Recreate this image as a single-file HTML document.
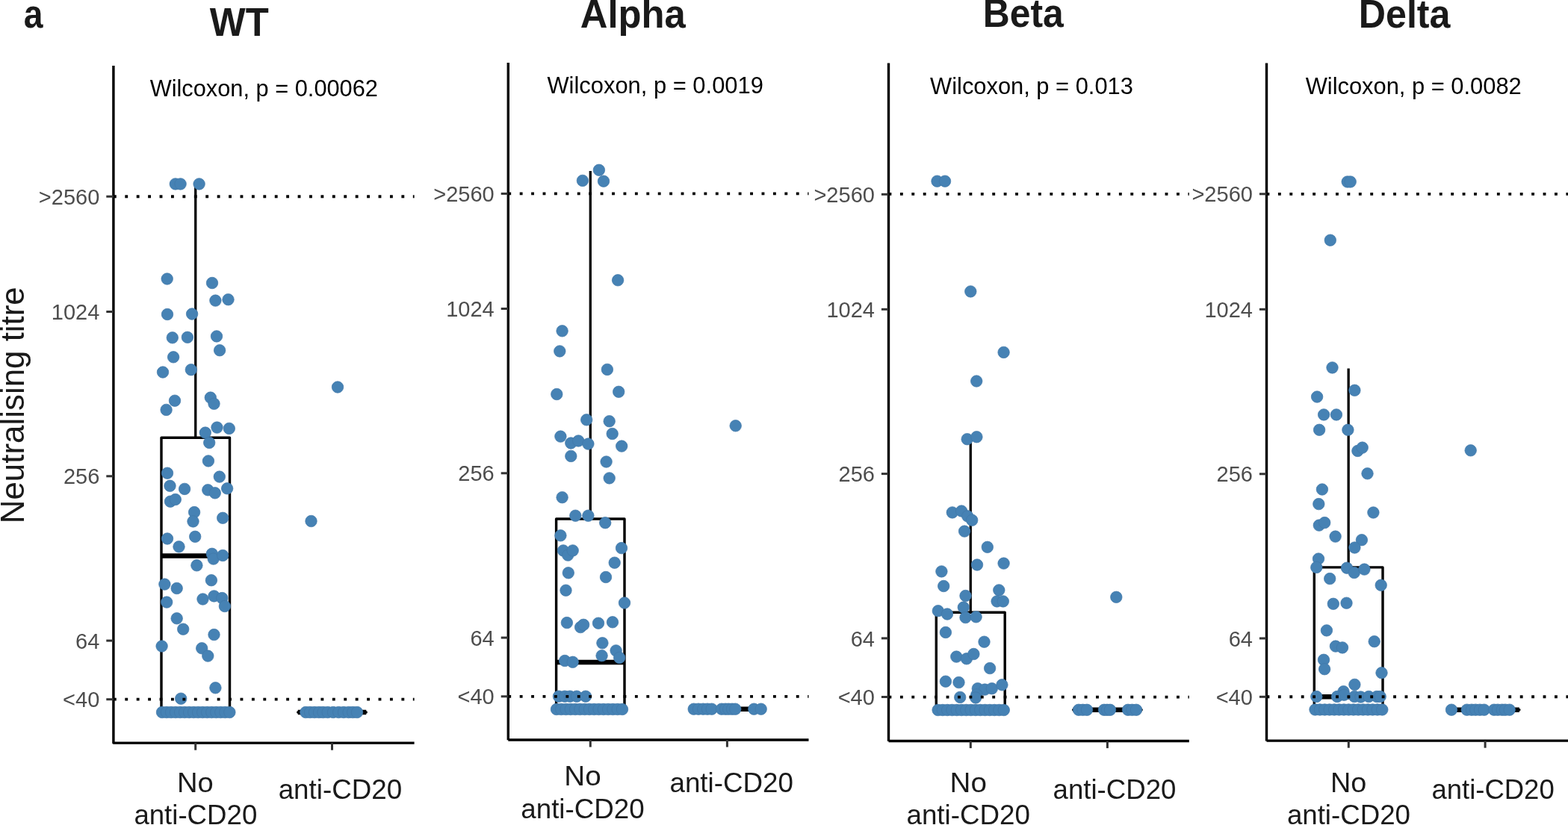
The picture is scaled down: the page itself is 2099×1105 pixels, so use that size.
<!DOCTYPE html><html><head><meta charset="utf-8"><title>Neutralising titre</title>
<style>html,body{margin:0;padding:0;background:#fff;overflow:hidden;}svg{display:block;}text{font-family:"Liberation Sans",Arial,Helvetica,sans-serif;}</style></head><body>
<svg width="2099" height="1105" viewBox="0 0 2099 1105">
<rect width="2099" height="1105" fill="#fff"/>
<g>
<line x1="261.75" y1="250" x2="261.75" y2="586.3" stroke="#000" stroke-width="3.3"/>
<rect x="216" y="586.3" width="91.5" height="367.7" fill="#fff" stroke="#000" stroke-width="3.4" stroke-linejoin="round"/>
<line x1="216" y1="744.6" x2="307.5" y2="744.6" stroke="#000" stroke-width="6.5"/>
<line x1="398.75" y1="954" x2="490.25" y2="954" stroke="#000" stroke-width="3.4" stroke-linecap="round"/>
<line x1="398.75" y1="954" x2="490.25" y2="954" stroke="#000" stroke-width="6.5" stroke-linecap="butt"/>
<g fill="#4682b4" stroke="#4077a8" stroke-width="0.7">
<circle cx="234.8" cy="246.4" r="7.75"/>
<circle cx="241.6" cy="246.4" r="7.75"/>
<circle cx="266.6" cy="246.4" r="7.75"/>
<circle cx="223.7" cy="373.5" r="7.75"/>
<circle cx="284" cy="379" r="7.75"/>
<circle cx="288.4" cy="402.6" r="7.75"/>
<circle cx="305.5" cy="401.2" r="7.75"/>
<circle cx="224" cy="421" r="7.75"/>
<circle cx="257.1" cy="420.5" r="7.75"/>
<circle cx="230.8" cy="452.3" r="7.75"/>
<circle cx="250.9" cy="451.8" r="7.75"/>
<circle cx="290" cy="450.4" r="7.75"/>
<circle cx="294.1" cy="469.2" r="7.75"/>
<circle cx="232.1" cy="478.3" r="7.75"/>
<circle cx="218" cy="498.5" r="7.75"/>
<circle cx="255.8" cy="495.2" r="7.75"/>
<circle cx="234" cy="536.7" r="7.75"/>
<circle cx="222.6" cy="548.9" r="7.75"/>
<circle cx="281.8" cy="532.6" r="7.75"/>
<circle cx="286.5" cy="540.8" r="7.75"/>
<circle cx="290.5" cy="572.6" r="7.75"/>
<circle cx="306.8" cy="573.9" r="7.75"/>
<circle cx="274.8" cy="579.6" r="7.75"/>
<circle cx="280.2" cy="592.9" r="7.75"/>
<circle cx="278.9" cy="617.4" r="7.75"/>
<circle cx="224" cy="633.7" r="7.75"/>
<circle cx="293.8" cy="638.6" r="7.75"/>
<circle cx="227.5" cy="650.8" r="7.75"/>
<circle cx="247.1" cy="654.9" r="7.75"/>
<circle cx="278.3" cy="656.3" r="7.75"/>
<circle cx="287.8" cy="660.3" r="7.75"/>
<circle cx="304.1" cy="654.3" r="7.75"/>
<circle cx="228" cy="671.7" r="7.75"/>
<circle cx="234.8" cy="669" r="7.75"/>
<circle cx="260.1" cy="686.1" r="7.75"/>
<circle cx="258.5" cy="698.4" r="7.75"/>
<circle cx="298.2" cy="693.8" r="7.75"/>
<circle cx="224" cy="721.5" r="7.75"/>
<circle cx="261.2" cy="718.8" r="7.75"/>
<circle cx="239.5" cy="732.3" r="7.75"/>
<circle cx="283.8" cy="741.8" r="7.75"/>
<circle cx="285.7" cy="748.6" r="7.75"/>
<circle cx="298.2" cy="744" r="7.75"/>
<circle cx="263.4" cy="757.3" r="7.75"/>
<circle cx="220.4" cy="782.6" r="7.75"/>
<circle cx="236.7" cy="788" r="7.75"/>
<circle cx="282.9" cy="777.2" r="7.75"/>
<circle cx="223.2" cy="806.6" r="7.75"/>
<circle cx="271.5" cy="802.5" r="7.75"/>
<circle cx="286.5" cy="798.4" r="7.75"/>
<circle cx="297.3" cy="801.1" r="7.75"/>
<circle cx="300.9" cy="812" r="7.75"/>
<circle cx="236.7" cy="828.3" r="7.75"/>
<circle cx="245.2" cy="842.7" r="7.75"/>
<circle cx="286.5" cy="850.1" r="7.75"/>
<circle cx="216.6" cy="865.5" r="7.75"/>
<circle cx="270.2" cy="868.3" r="7.75"/>
<circle cx="278.3" cy="878.6" r="7.75"/>
<circle cx="288.4" cy="921.3" r="7.75"/>
<circle cx="242.2" cy="935.7" r="7.75"/>
<circle cx="217" cy="954" r="7.75"/>
<circle cx="223.03" cy="954" r="7.75"/>
<circle cx="229.05" cy="954" r="7.75"/>
<circle cx="235.08" cy="954" r="7.75"/>
<circle cx="241.11" cy="954" r="7.75"/>
<circle cx="247.13" cy="954" r="7.75"/>
<circle cx="253.16" cy="954" r="7.75"/>
<circle cx="259.19" cy="954" r="7.75"/>
<circle cx="265.21" cy="954" r="7.75"/>
<circle cx="271.24" cy="954" r="7.75"/>
<circle cx="277.27" cy="954" r="7.75"/>
<circle cx="283.29" cy="954" r="7.75"/>
<circle cx="289.32" cy="954" r="7.75"/>
<circle cx="295.35" cy="954" r="7.75"/>
<circle cx="301.37" cy="954" r="7.75"/>
<circle cx="307.4" cy="954" r="7.75"/>
<circle cx="452" cy="518.5" r="7.75"/>
<circle cx="416.5" cy="698" r="7.75"/>
<circle cx="409.3" cy="954" r="7.75"/>
<circle cx="415" cy="954" r="7.75"/>
<circle cx="421" cy="954" r="7.75"/>
<circle cx="427" cy="954" r="7.75"/>
<circle cx="432.5" cy="954" r="7.75"/>
<circle cx="438.7" cy="954" r="7.75"/>
<circle cx="446" cy="954" r="7.75"/>
<circle cx="453.3" cy="954" r="7.75"/>
<circle cx="460" cy="954" r="7.75"/>
<circle cx="466.7" cy="954" r="7.75"/>
<circle cx="472.3" cy="954" r="7.75"/>
<circle cx="478" cy="954" r="7.75"/>
</g>
<line x1="151.9" y1="263.2" x2="554.6" y2="263.2" stroke="#000" stroke-width="3.85" stroke-dasharray="3.85 11.57"/>
<line x1="151.9" y1="936.6" x2="554.6" y2="936.6" stroke="#000" stroke-width="3.85" stroke-dasharray="3.85 11.57"/>
<path d="M151.9 88V995.1H554.6" fill="none" stroke="#000" stroke-width="3.4" stroke-linejoin="round"/>
<line x1="142.3" y1="263.2" x2="151.9" y2="263.2" stroke="#333" stroke-width="3"/>
<text x="133.3" y="273.8" font-size="29.0" fill="#4d4d4d" text-anchor="end">&gt;2560</text>
<line x1="142.3" y1="417.5" x2="151.9" y2="417.5" stroke="#333" stroke-width="3"/>
<text x="133.3" y="428.1" font-size="29.0" fill="#4d4d4d" text-anchor="end">1024</text>
<line x1="142.3" y1="637.8" x2="151.9" y2="637.8" stroke="#333" stroke-width="3"/>
<text x="133.3" y="648.4" font-size="29.0" fill="#4d4d4d" text-anchor="end">256</text>
<line x1="142.3" y1="858.1" x2="151.9" y2="858.1" stroke="#333" stroke-width="3"/>
<text x="133.3" y="868.7" font-size="29.0" fill="#4d4d4d" text-anchor="end">64</text>
<line x1="142.3" y1="936.7" x2="151.9" y2="936.7" stroke="#333" stroke-width="3"/>
<text x="133.3" y="947.3" font-size="29.0" fill="#4d4d4d" text-anchor="end">&lt;40</text>
<line x1="261.7" y1="995.1" x2="261.7" y2="1004.7" stroke="#333" stroke-width="3"/>
<line x1="444.5" y1="995.1" x2="444.5" y2="1004.7" stroke="#333" stroke-width="3"/>
<text transform="translate(236.94 1060.70) scale(1.0395 1.0000)" font-size="36.7" fill="#1a1a1a">No</text>
<text transform="translate(179.38 1104.30) scale(0.9981 1.0000)" font-size="36.7" fill="#1a1a1a">anti-CD20</text>
<text transform="translate(372.68 1069.70) scale(1.0018 1.0000)" font-size="36.7" fill="#1a1a1a">anti-CD20</text>
<text transform="translate(200.65 128.60) scale(0.9961 1.0000)" font-size="30.9" fill="#000">Wilcoxon, p = 0.00062</text>
<text transform="translate(280.70 47.80) scale(0.9588 1.0000)" font-size="53" font-weight="bold" fill="#1a1a1a">WT</text>
</g>
<g>
<line x1="790.3" y1="229" x2="790.3" y2="695" stroke="#000" stroke-width="3.3"/>
<rect x="744.6" y="695" width="91.4" height="255" fill="#fff" stroke="#000" stroke-width="3.4" stroke-linejoin="round"/>
<line x1="744.6" y1="886.9" x2="836" y2="886.9" stroke="#000" stroke-width="6.5"/>
<line x1="927.65" y1="949.7" x2="1019.15" y2="949.7" stroke="#000" stroke-width="3.4" stroke-linecap="round"/>
<line x1="927.65" y1="949.7" x2="1019.15" y2="949.7" stroke="#000" stroke-width="6.5" stroke-linecap="butt"/>
<g fill="#4682b4" stroke="#4077a8" stroke-width="0.7">
<circle cx="779.9" cy="241.9" r="7.75"/>
<circle cx="801.9" cy="227.8" r="7.75"/>
<circle cx="808" cy="242.7" r="7.75"/>
<circle cx="827.1" cy="375.3" r="7.75"/>
<circle cx="752.6" cy="443.3" r="7.75"/>
<circle cx="749.3" cy="470.4" r="7.75"/>
<circle cx="812.9" cy="494.9" r="7.75"/>
<circle cx="745.3" cy="528" r="7.75"/>
<circle cx="828.2" cy="524.8" r="7.75"/>
<circle cx="785.2" cy="562.3" r="7.75"/>
<circle cx="815.7" cy="564.2" r="7.75"/>
<circle cx="750.4" cy="584.6" r="7.75"/>
<circle cx="764.3" cy="593.5" r="7.75"/>
<circle cx="774.3" cy="590.5" r="7.75"/>
<circle cx="787.4" cy="594.6" r="7.75"/>
<circle cx="819.7" cy="581" r="7.75"/>
<circle cx="832.2" cy="597.6" r="7.75"/>
<circle cx="764.3" cy="610.9" r="7.75"/>
<circle cx="811.6" cy="618.5" r="7.75"/>
<circle cx="815.7" cy="640.4" r="7.75"/>
<circle cx="752.6" cy="666.2" r="7.75"/>
<circle cx="770.3" cy="690.7" r="7.75"/>
<circle cx="787.4" cy="690.7" r="7.75"/>
<circle cx="810.2" cy="700.2" r="7.75"/>
<circle cx="750.4" cy="717.3" r="7.75"/>
<circle cx="754" cy="737.4" r="7.75"/>
<circle cx="760.2" cy="743.6" r="7.75"/>
<circle cx="766.7" cy="737.4" r="7.75"/>
<circle cx="832" cy="734.1" r="7.75"/>
<circle cx="822.7" cy="753.7" r="7.75"/>
<circle cx="760.8" cy="767.3" r="7.75"/>
<circle cx="811" cy="773" r="7.75"/>
<circle cx="757.5" cy="790.7" r="7.75"/>
<circle cx="836" cy="807.5" r="7.75"/>
<circle cx="758.9" cy="834.1" r="7.75"/>
<circle cx="777.1" cy="840.1" r="7.75"/>
<circle cx="781.1" cy="836.8" r="7.75"/>
<circle cx="801" cy="834.7" r="7.75"/>
<circle cx="820" cy="833.3" r="7.75"/>
<circle cx="806.4" cy="861.3" r="7.75"/>
<circle cx="805.6" cy="878.2" r="7.75"/>
<circle cx="824.6" cy="871.4" r="7.75"/>
<circle cx="829.2" cy="880.9" r="7.75"/>
<circle cx="756.1" cy="885" r="7.75"/>
<circle cx="766.7" cy="886.8" r="7.75"/>
<circle cx="748" cy="932.7" r="7.75"/>
<circle cx="756" cy="932.7" r="7.75"/>
<circle cx="763" cy="932.7" r="7.75"/>
<circle cx="772" cy="932.7" r="7.75"/>
<circle cx="784" cy="932.7" r="7.75"/>
<circle cx="745" cy="950" r="7.75"/>
<circle cx="751.29" cy="950" r="7.75"/>
<circle cx="757.57" cy="950" r="7.75"/>
<circle cx="763.86" cy="950" r="7.75"/>
<circle cx="770.14" cy="950" r="7.75"/>
<circle cx="776.43" cy="950" r="7.75"/>
<circle cx="782.71" cy="950" r="7.75"/>
<circle cx="789" cy="950" r="7.75"/>
<circle cx="795.29" cy="950" r="7.75"/>
<circle cx="801.57" cy="950" r="7.75"/>
<circle cx="807.86" cy="950" r="7.75"/>
<circle cx="814.14" cy="950" r="7.75"/>
<circle cx="820.43" cy="950" r="7.75"/>
<circle cx="826.71" cy="950" r="7.75"/>
<circle cx="833" cy="950" r="7.75"/>
<circle cx="984.7" cy="570.3" r="7.75"/>
<circle cx="928.7" cy="949.7" r="7.75"/>
<circle cx="935" cy="949.7" r="7.75"/>
<circle cx="941.3" cy="949.7" r="7.75"/>
<circle cx="947" cy="949.7" r="7.75"/>
<circle cx="952.7" cy="949.7" r="7.75"/>
<circle cx="966" cy="949.7" r="7.75"/>
<circle cx="971" cy="949.7" r="7.75"/>
<circle cx="975.3" cy="949.7" r="7.75"/>
<circle cx="980" cy="949.7" r="7.75"/>
<circle cx="984.3" cy="949.7" r="7.75"/>
<circle cx="1009.3" cy="949.7" r="7.75"/>
<circle cx="1018.7" cy="949.7" r="7.75"/>
</g>
<line x1="680.3" y1="259.3" x2="1082.5" y2="259.3" stroke="#000" stroke-width="3.85" stroke-dasharray="3.85 11.57"/>
<line x1="680.3" y1="932.8" x2="1082.5" y2="932.8" stroke="#000" stroke-width="3.85" stroke-dasharray="3.85 11.57"/>
<path d="M680.3 84V991.3M680.3 991H1082.5" fill="none" stroke="#000" stroke-width="3.4"/>
<line x1="670.7" y1="259.4" x2="680.3" y2="259.4" stroke="#333" stroke-width="3"/>
<text x="661.7" y="270" font-size="29.0" fill="#4d4d4d" text-anchor="end">&gt;2560</text>
<line x1="670.7" y1="413.5" x2="680.3" y2="413.5" stroke="#333" stroke-width="3"/>
<text x="661.7" y="424.1" font-size="29.0" fill="#4d4d4d" text-anchor="end">1024</text>
<line x1="670.7" y1="633.8" x2="680.3" y2="633.8" stroke="#333" stroke-width="3"/>
<text x="661.7" y="644.4" font-size="29.0" fill="#4d4d4d" text-anchor="end">256</text>
<line x1="670.7" y1="854.1" x2="680.3" y2="854.1" stroke="#333" stroke-width="3"/>
<text x="661.7" y="864.7" font-size="29.0" fill="#4d4d4d" text-anchor="end">64</text>
<line x1="670.7" y1="932.8" x2="680.3" y2="932.8" stroke="#333" stroke-width="3"/>
<text x="661.7" y="943.4" font-size="29.0" fill="#4d4d4d" text-anchor="end">&lt;40</text>
<line x1="790.3" y1="991" x2="790.3" y2="1000.6" stroke="#333" stroke-width="3"/>
<line x1="973.4" y1="991" x2="973.4" y2="1000.6" stroke="#333" stroke-width="3"/>
<text transform="translate(755.30 1052.30) scale(1.0513 1.0000)" font-size="36.7" fill="#1a1a1a">No</text>
<text transform="translate(697.28 1095.90) scale(1.0018 1.0000)" font-size="36.7" fill="#1a1a1a">anti-CD20</text>
<text transform="translate(896.48 1060.70) scale(1.0012 1.0000)" font-size="36.7" fill="#1a1a1a">anti-CD20</text>
<text transform="translate(732.45 124.60) scale(1.0005 1.0000)" font-size="30.9" fill="#000">Wilcoxon, p = 0.0019</text>
<text transform="translate(776.79 37.30) scale(0.9578 1.0000)" font-size="53" font-weight="bold" fill="#1a1a1a">Alpha</text>
</g>
<g>
<line x1="1299.25" y1="592.8" x2="1299.25" y2="820.3" stroke="#000" stroke-width="3.3"/>
<rect x="1253.3" y="820.3" width="91.9" height="130.7" fill="#fff" stroke="#000" stroke-width="3.4" stroke-linejoin="round"/>
<line x1="1253.3" y1="951" x2="1345.2" y2="951" stroke="#000" stroke-width="6.5"/>
<line x1="1436.65" y1="950.8" x2="1528.15" y2="950.8" stroke="#000" stroke-width="3.4" stroke-linecap="round"/>
<line x1="1436.65" y1="950.8" x2="1528.15" y2="950.8" stroke="#000" stroke-width="6.5" stroke-linecap="butt"/>
<g fill="#4682b4" stroke="#4077a8" stroke-width="0.7">
<circle cx="1254.5" cy="242.7" r="7.75"/>
<circle cx="1265" cy="242.7" r="7.75"/>
<circle cx="1299.3" cy="390.4" r="7.75"/>
<circle cx="1343.6" cy="471.9" r="7.75"/>
<circle cx="1307.2" cy="510.5" r="7.75"/>
<circle cx="1294.7" cy="588.2" r="7.75"/>
<circle cx="1307.4" cy="585.2" r="7.75"/>
<circle cx="1274.8" cy="686.4" r="7.75"/>
<circle cx="1287.1" cy="684.5" r="7.75"/>
<circle cx="1295.2" cy="691.3" r="7.75"/>
<circle cx="1301.2" cy="696.7" r="7.75"/>
<circle cx="1291.1" cy="711.6" r="7.75"/>
<circle cx="1321.8" cy="732.8" r="7.75"/>
<circle cx="1308" cy="756.5" r="7.75"/>
<circle cx="1343.6" cy="754.6" r="7.75"/>
<circle cx="1260.4" cy="765.4" r="7.75"/>
<circle cx="1263.2" cy="785" r="7.75"/>
<circle cx="1337.3" cy="790.4" r="7.75"/>
<circle cx="1334.6" cy="805.4" r="7.75"/>
<circle cx="1342.8" cy="805.4" r="7.75"/>
<circle cx="1292.5" cy="798" r="7.75"/>
<circle cx="1289.8" cy="813.5" r="7.75"/>
<circle cx="1255.8" cy="818.2" r="7.75"/>
<circle cx="1268" cy="822.5" r="7.75"/>
<circle cx="1292.5" cy="827.1" r="7.75"/>
<circle cx="1306.6" cy="826.3" r="7.75"/>
<circle cx="1265.9" cy="847" r="7.75"/>
<circle cx="1317.5" cy="859.7" r="7.75"/>
<circle cx="1280.3" cy="879.6" r="7.75"/>
<circle cx="1293.9" cy="882.3" r="7.75"/>
<circle cx="1303.4" cy="876" r="7.75"/>
<circle cx="1325.1" cy="895.1" r="7.75"/>
<circle cx="1265.9" cy="912.7" r="7.75"/>
<circle cx="1283.5" cy="914.1" r="7.75"/>
<circle cx="1308.8" cy="922.2" r="7.75"/>
<circle cx="1318.3" cy="923.6" r="7.75"/>
<circle cx="1327.8" cy="922.2" r="7.75"/>
<circle cx="1341.4" cy="917.3" r="7.75"/>
<circle cx="1307.4" cy="930.4" r="7.75"/>
<circle cx="1285.2" cy="933.9" r="7.75"/>
<circle cx="1306.1" cy="934.5" r="7.75"/>
<circle cx="1255.6" cy="951" r="7.75"/>
<circle cx="1261.9" cy="951" r="7.75"/>
<circle cx="1268.2" cy="951" r="7.75"/>
<circle cx="1274.5" cy="951" r="7.75"/>
<circle cx="1280.8" cy="951" r="7.75"/>
<circle cx="1287.1" cy="951" r="7.75"/>
<circle cx="1293.4" cy="951" r="7.75"/>
<circle cx="1299.7" cy="951" r="7.75"/>
<circle cx="1306" cy="951" r="7.75"/>
<circle cx="1312.3" cy="951" r="7.75"/>
<circle cx="1318.6" cy="951" r="7.75"/>
<circle cx="1324.9" cy="951" r="7.75"/>
<circle cx="1331.2" cy="951" r="7.75"/>
<circle cx="1337.5" cy="951" r="7.75"/>
<circle cx="1343.8" cy="951" r="7.75"/>
<circle cx="1494.3" cy="799.8" r="7.75"/>
<circle cx="1444" cy="950.8" r="7.75"/>
<circle cx="1449.5" cy="950.8" r="7.75"/>
<circle cx="1455" cy="950.8" r="7.75"/>
<circle cx="1478" cy="950.8" r="7.75"/>
<circle cx="1482" cy="950.8" r="7.75"/>
<circle cx="1486" cy="950.8" r="7.75"/>
<circle cx="1510" cy="950.8" r="7.75"/>
<circle cx="1515.5" cy="950.8" r="7.75"/>
<circle cx="1521" cy="950.8" r="7.75"/>
</g>
<line x1="1189.5" y1="259.8" x2="1591.8" y2="259.8" stroke="#000" stroke-width="3.85" stroke-dasharray="3.85 11.57"/>
<line x1="1189.5" y1="933.6" x2="1591.8" y2="933.6" stroke="#000" stroke-width="3.85" stroke-dasharray="3.85 11.57"/>
<path d="M1189.5 84.5V992.8M1189.5 992.5H1591.8" fill="none" stroke="#000" stroke-width="3.4"/>
<line x1="1179.9" y1="260.3" x2="1189.5" y2="260.3" stroke="#333" stroke-width="3"/>
<text x="1170.9" y="270.9" font-size="29.0" fill="#4d4d4d" text-anchor="end">&gt;2560</text>
<line x1="1179.9" y1="414.3" x2="1189.5" y2="414.3" stroke="#333" stroke-width="3"/>
<text x="1170.9" y="424.9" font-size="29.0" fill="#4d4d4d" text-anchor="end">1024</text>
<line x1="1179.9" y1="634.6" x2="1189.5" y2="634.6" stroke="#333" stroke-width="3"/>
<text x="1170.9" y="645.2" font-size="29.0" fill="#4d4d4d" text-anchor="end">256</text>
<line x1="1179.9" y1="854.9" x2="1189.5" y2="854.9" stroke="#333" stroke-width="3"/>
<text x="1170.9" y="865.5" font-size="29.0" fill="#4d4d4d" text-anchor="end">64</text>
<line x1="1179.9" y1="933.5" x2="1189.5" y2="933.5" stroke="#333" stroke-width="3"/>
<text x="1170.9" y="944.1" font-size="29.0" fill="#4d4d4d" text-anchor="end">&lt;40</text>
<line x1="1299.3" y1="992.5" x2="1299.3" y2="1002.1" stroke="#333" stroke-width="3"/>
<line x1="1482.4" y1="992.5" x2="1482.4" y2="1002.1" stroke="#333" stroke-width="3"/>
<text transform="translate(1271.60 1060.70) scale(1.0513 1.0000)" font-size="36.7" fill="#1a1a1a">No</text>
<text transform="translate(1213.48 1104.30) scale(1.0018 1.0000)" font-size="36.7" fill="#1a1a1a">anti-CD20</text>
<text transform="translate(1409.58 1069.70) scale(0.9981 1.0000)" font-size="36.7" fill="#1a1a1a">anti-CD20</text>
<text transform="translate(1245.05 126.00) scale(0.9988 1.0000)" font-size="30.9" fill="#000">Wilcoxon, p = 0.013</text>
<text transform="translate(1315.78 36.40) scale(0.9400 1.0000)" font-size="53" font-weight="bold" fill="#1a1a1a">Beta</text>
</g>
<g>
<line x1="1805.15" y1="493.5" x2="1805.15" y2="759.9" stroke="#000" stroke-width="3.3"/>
<rect x="1759.3" y="759.9" width="91.7" height="190.6" fill="#fff" stroke="#000" stroke-width="3.4" stroke-linejoin="round"/>
<line x1="1759.3" y1="933.3" x2="1851" y2="933.3" stroke="#000" stroke-width="6.5"/>
<line x1="1942.35" y1="950.7" x2="2033.85" y2="950.7" stroke="#000" stroke-width="3.4" stroke-linecap="round"/>
<line x1="1942.35" y1="950.7" x2="2033.85" y2="950.7" stroke="#000" stroke-width="6.5" stroke-linecap="butt"/>
<g fill="#4682b4" stroke="#4077a8" stroke-width="0.7">
<circle cx="1803.7" cy="243.5" r="7.75"/>
<circle cx="1807.7" cy="243.5" r="7.75"/>
<circle cx="1780.8" cy="321.7" r="7.75"/>
<circle cx="1783.5" cy="492.4" r="7.75"/>
<circle cx="1813.4" cy="522.8" r="7.75"/>
<circle cx="1763.1" cy="531.5" r="7.75"/>
<circle cx="1772.1" cy="555.4" r="7.75"/>
<circle cx="1788.9" cy="555.4" r="7.75"/>
<circle cx="1766.1" cy="575.8" r="7.75"/>
<circle cx="1804.4" cy="575.8" r="7.75"/>
<circle cx="1817.4" cy="603.9" r="7.75"/>
<circle cx="1823.7" cy="599.6" r="7.75"/>
<circle cx="1830.5" cy="634.3" r="7.75"/>
<circle cx="1769.9" cy="655.5" r="7.75"/>
<circle cx="1765.3" cy="675.1" r="7.75"/>
<circle cx="1765.8" cy="703.6" r="7.75"/>
<circle cx="1773.2" cy="700.1" r="7.75"/>
<circle cx="1838.4" cy="686.5" r="7.75"/>
<circle cx="1787.6" cy="718.6" r="7.75"/>
<circle cx="1822.9" cy="723.2" r="7.75"/>
<circle cx="1813.4" cy="733.5" r="7.75"/>
<circle cx="1765" cy="748.5" r="7.75"/>
<circle cx="1762.3" cy="759.9" r="7.75"/>
<circle cx="1803" cy="760.7" r="7.75"/>
<circle cx="1812.8" cy="767" r="7.75"/>
<circle cx="1826.4" cy="762.6" r="7.75"/>
<circle cx="1780.2" cy="775.1" r="7.75"/>
<circle cx="1848.7" cy="783.8" r="7.75"/>
<circle cx="1784.8" cy="808.8" r="7.75"/>
<circle cx="1802.5" cy="807.7" r="7.75"/>
<circle cx="1775.9" cy="844.4" r="7.75"/>
<circle cx="1787.9" cy="865.6" r="7.75"/>
<circle cx="1797" cy="867.4" r="7.75"/>
<circle cx="1839.7" cy="859.2" r="7.75"/>
<circle cx="1772" cy="883.8" r="7.75"/>
<circle cx="1773.1" cy="896.2" r="7.75"/>
<circle cx="1849.5" cy="901.2" r="7.75"/>
<circle cx="1813.4" cy="916.9" r="7.75"/>
<circle cx="1798.5" cy="926.2" r="7.75"/>
<circle cx="1762.3" cy="933" r="7.75"/>
<circle cx="1790" cy="933" r="7.75"/>
<circle cx="1799.2" cy="930.8" r="7.75"/>
<circle cx="1813.1" cy="933" r="7.75"/>
<circle cx="1821.5" cy="933.5" r="7.75"/>
<circle cx="1832.3" cy="933" r="7.75"/>
<circle cx="1843.1" cy="933" r="7.75"/>
<circle cx="1847.7" cy="933" r="7.75"/>
<circle cx="1760.5" cy="950.5" r="7.75"/>
<circle cx="1766.91" cy="950.5" r="7.75"/>
<circle cx="1773.33" cy="950.5" r="7.75"/>
<circle cx="1779.74" cy="950.5" r="7.75"/>
<circle cx="1786.16" cy="950.5" r="7.75"/>
<circle cx="1792.57" cy="950.5" r="7.75"/>
<circle cx="1798.99" cy="950.5" r="7.75"/>
<circle cx="1805.4" cy="950.5" r="7.75"/>
<circle cx="1811.81" cy="950.5" r="7.75"/>
<circle cx="1818.23" cy="950.5" r="7.75"/>
<circle cx="1824.64" cy="950.5" r="7.75"/>
<circle cx="1831.06" cy="950.5" r="7.75"/>
<circle cx="1837.47" cy="950.5" r="7.75"/>
<circle cx="1843.89" cy="950.5" r="7.75"/>
<circle cx="1850.3" cy="950.5" r="7.75"/>
<circle cx="1968.7" cy="603.3" r="7.75"/>
<circle cx="1943" cy="950.7" r="7.75"/>
<circle cx="1963.7" cy="950.7" r="7.75"/>
<circle cx="1970" cy="950.7" r="7.75"/>
<circle cx="1975.3" cy="950.7" r="7.75"/>
<circle cx="1981" cy="950.7" r="7.75"/>
<circle cx="1986.7" cy="950.7" r="7.75"/>
<circle cx="2000" cy="950.7" r="7.75"/>
<circle cx="2005" cy="950.7" r="7.75"/>
<circle cx="2010.7" cy="950.7" r="7.75"/>
<circle cx="2015" cy="950.7" r="7.75"/>
<circle cx="2020.7" cy="950.7" r="7.75"/>
</g>
<line x1="1695.5" y1="259.8" x2="2110" y2="259.8" stroke="#000" stroke-width="3.85" stroke-dasharray="3.85 11.57"/>
<line x1="1695.5" y1="933.2" x2="2110" y2="933.2" stroke="#000" stroke-width="3.85" stroke-dasharray="3.85 11.57"/>
<path d="M1695.5 84.5V992.4M1695.5 992.1H2110" fill="none" stroke="#000" stroke-width="3.4"/>
<line x1="1685.9" y1="259.8" x2="1695.5" y2="259.8" stroke="#333" stroke-width="3"/>
<text x="1676.9" y="270.4" font-size="29.0" fill="#4d4d4d" text-anchor="end">&gt;2560</text>
<line x1="1685.9" y1="414.3" x2="1695.5" y2="414.3" stroke="#333" stroke-width="3"/>
<text x="1676.9" y="424.9" font-size="29.0" fill="#4d4d4d" text-anchor="end">1024</text>
<line x1="1685.9" y1="634.8" x2="1695.5" y2="634.8" stroke="#333" stroke-width="3"/>
<text x="1676.9" y="645.4" font-size="29.0" fill="#4d4d4d" text-anchor="end">256</text>
<line x1="1685.9" y1="855" x2="1695.5" y2="855" stroke="#333" stroke-width="3"/>
<text x="1676.9" y="865.6" font-size="29.0" fill="#4d4d4d" text-anchor="end">64</text>
<line x1="1685.9" y1="933.3" x2="1695.5" y2="933.3" stroke="#333" stroke-width="3"/>
<text x="1676.9" y="943.9" font-size="29.0" fill="#4d4d4d" text-anchor="end">&lt;40</text>
<line x1="1805.3" y1="992.1" x2="1805.3" y2="1001.7" stroke="#333" stroke-width="3"/>
<line x1="1988.1" y1="992.1" x2="1988.1" y2="1001.7" stroke="#333" stroke-width="3"/>
<text transform="translate(1781.07 1060.70) scale(1.0301 1.0000)" font-size="36.7" fill="#1a1a1a">No</text>
<text transform="translate(1722.88 1104.30) scale(0.9993 1.0000)" font-size="36.7" fill="#1a1a1a">anti-CD20</text>
<text transform="translate(1916.39 1069.70) scale(0.9950 1.0000)" font-size="36.7" fill="#1a1a1a">anti-CD20</text>
<text transform="translate(1747.65 126.00) scale(0.9991 1.0000)" font-size="30.9" fill="#000">Wilcoxon, p = 0.0082</text>
<text transform="translate(1818.76 36.80) scale(0.9467 1.0000)" font-size="53" font-weight="bold" fill="#1a1a1a">Delta</text>
</g>
<text transform="translate(31.78 36.80) scale(0.8738 1.0000)" font-size="53" font-weight="bold" fill="#1a1a1a">a</text>
<text transform="translate(31.9 701.23) rotate(-90) scale(0.9751 1)" font-size="45" fill="#1a1a1a">Neutralising titre</text>
</svg></body></html>
